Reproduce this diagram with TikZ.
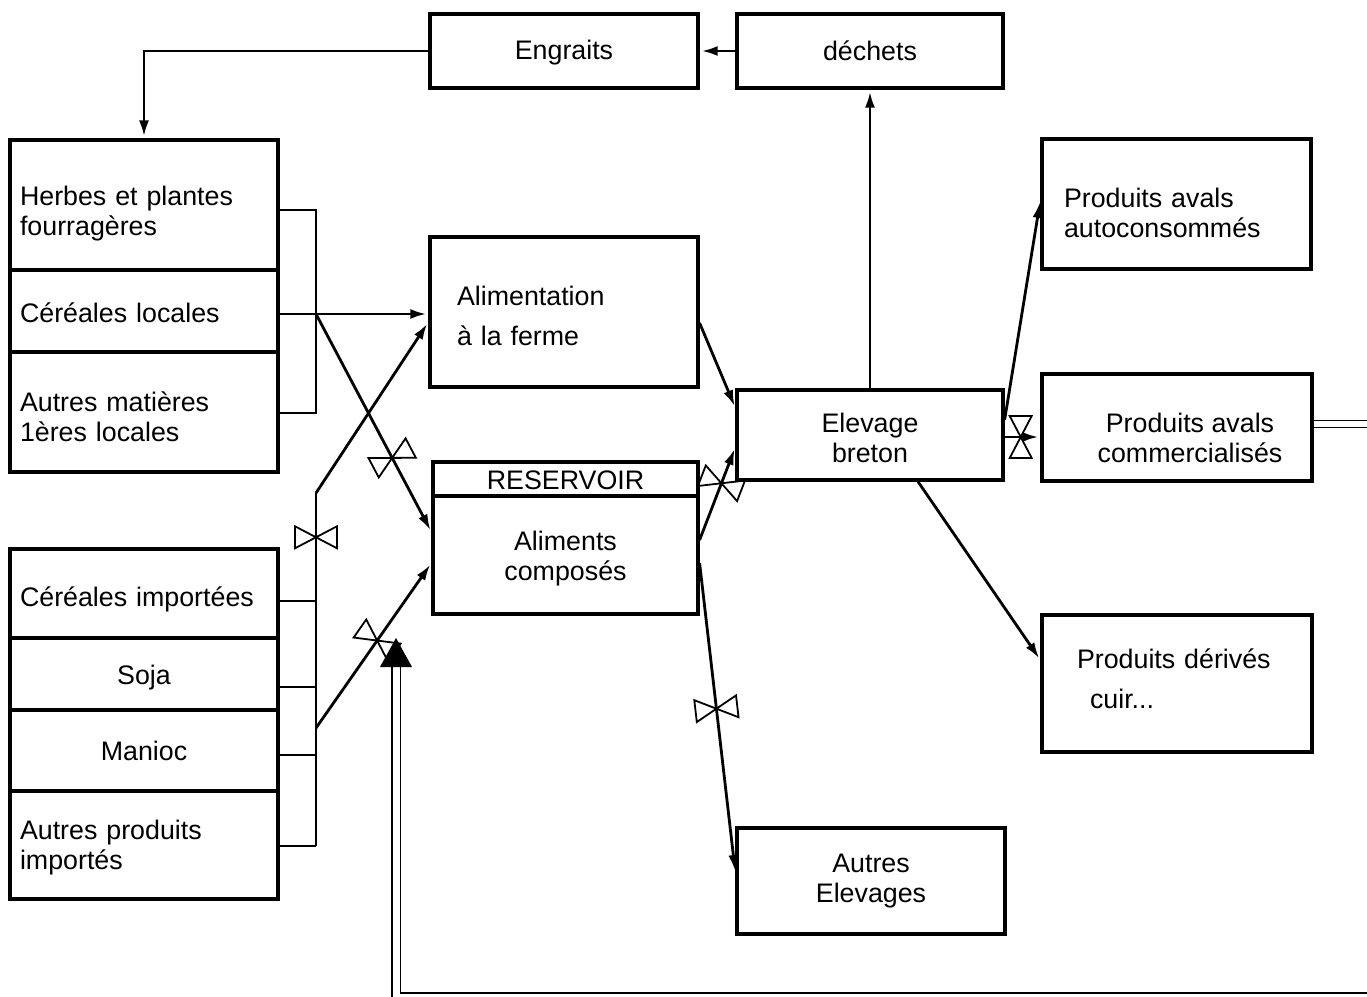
\documentclass[tikz,border=0pt]{standalone}
\usepackage{fontspec}
\setmainfont{Liberation Sans}
\usetikzlibrary{arrows.meta}
\newcommand{\fsz}{\fontsize{13.4pt}{15pt}\selectfont}
% pushes a node text down (taller first line)
\newcommand{\dn}[1]{\rule{0pt}{#1}}
\tikzset{
    box/.style={draw, line width=1.6pt, inner sep=0pt, font=\fsz, align=center},
    lbox/.style={box, align=left},
    pipe/.style={line width=1.4pt},
    flow/.style={pipe, ->, shorten >=1pt},
    valve/.pic={
        \draw[line width=0.9pt, -] (0,0) -- (-11,21) -- (11,21) -- cycle
                                   (0,0) -- (-11,-21) -- (11,-21) -- cycle;
    },
    >={Latex[length=8pt,width=5pt]},
}

\begin{document}
\begin{tikzpicture}[x=0.5pt,y=-0.5pt]
\clip (0,0) rectangle (1367,997);
% top
\node[box, minimum width=134pt, minimum height=37pt] (engrais) at (564,51) {\dn{11pt}Engraits};
\node[box, minimum width=133pt, minimum height=37pt] (dechets) at (870,51) {déchets};
% local resources
\node[lbox, text width=124pt, inner xsep=5pt, minimum height=65pt] (herbes) at (144,205) {\dn{18pt}Herbes et plantes\\fourragères};
\node[lbox, text width=124pt, inner xsep=5pt, minimum height=41pt] (cerloc) at (144,311) {\dn{12pt}Céréales locales};
\node[lbox, text width=124pt, inner xsep=5pt, minimum height=60pt] (autmat) at (144,412) {\dn{15pt}Autres matières\\1ères locales};
% imports
\node[lbox, text width=124pt, inner xsep=5pt, minimum height=44.5pt] (cerimp) at (144,593.5) {\dn{16pt}Céréales importées};
\node[box, minimum width=134pt, minimum height=36pt] (soja) at (144,674) {\dn{13pt}Soja};
\node[box, minimum width=134pt, minimum height=40.5pt] (manioc) at (144,750.5) {Manioc};
\node[lbox, text width=124pt, inner xsep=5pt, minimum height=54pt] (autimp) at (144,845) {\dn{12pt}Autres produits\\importés};
% feed
\node[lbox, text width=107pt, inner xsep=13.5pt, minimum height=75pt] (alim) at (564,312) {\dn{14pt}Alimentation\\[5pt]à la ferme};
\node[box, minimum width=132.5pt, minimum height=17pt] (reserv) at (565.5,479) {\dn{11pt}RESERVOIR};
\node[box, minimum width=132.5pt, minimum height=59pt] (aliments) at (565.5,555) {\dn{13pt}Aliments\\composés};
% livestock
\node[box, minimum width=133pt, minimum height=45pt] (elevage) at (870,435) {\dn{13pt}Elevage\\breton};
\node[box, minimum width=134pt, minimum height=53pt] (autelev) at (871,881) {Autres\\Elevages};
% outputs
\node[lbox, text width=112.5pt, inner xsep=11pt, minimum height=65pt] (pauto) at (1176.5,204) {\dn{19pt}Produits avals\\autoconsommés};
\node[box, minimum width=135pt, minimum height=53.5pt] (pcomm) at (1177,427.5) {\dn{20pt}\hspace*{13pt}Produits avals\\\hspace*{13pt}commercialisés};
\node[lbox, text width=100pt, inner xsep=17.5pt, minimum height=68.5pt] (pderiv) at (1177,683.5) {Produits dérivés\\[5pt]\hspace*{6.5pt}cuir...\rule[-5pt]{0pt}{5pt}};

\coordinate (b1t) at (316,210);
\coordinate (b1m) at (316,314);
\coordinate (b1b) at (316,413);
\coordinate (b2a) at (316,493);
\coordinate (s1) at (316,601);
\coordinate (s2) at (316,687);
\coordinate (m1) at (316,728);
\coordinate (s3) at (316,755);
\coordinate (s4) at (316,846);
\coordinate (bordE) at (1367,424);
\coordinate (bordS) at (1380,997);
\coordinate (fbfoot) at (396,666);
\coordinate (fbtip) at (396,638);

\draw[flow] (dechets) -- (engrais);
\draw[flow] (engrais.west) -| (herbes.north);
% local side
\draw[pipe] (b1t -| herbes.east) -- (b1t) -- (b1b) -- (b1b -| autmat.east);
\draw[flow] (b1m -| cerloc.east) -- (b1m) -- (b1m -| alim.west);
\draw[flow] (b1m) -- (aliments.west |- 0,532) pic[pos=0.66, sloped] {valve};
% import side
\foreach \s/\b in {s1/cerimp, s2/soja, s3/manioc, s4/autimp}
    \draw[pipe] (\s -| \b.east) -- (\s);
\draw[pipe] (s4) -- (s1) -- (b2a) pic[pos=0.59, sloped] {valve};
\draw[flow] (b2a) -- (alim.west |- 0,322);
\draw[flow] (m1) -- (aliments.west |- 0,563) pic[pos=0.53, sloped] {valve};
% to the farms
\draw[flow] (alim.east |- 0,323) -- (elevage.west |- 0,408);
\draw[flow] (aliments.east |- 0,540) -- (elevage.west |- 0,447) pic[pos=0.61, sloped] {valve};
\draw[flow] (aliments.east |- 0,563) -- (autelev.west |- 0,873) pic[pos=0.47, sloped] {valve};
% outputs
\draw[flow] (elevage) -- (dechets);
\draw[flow] (elevage.east |- 0,420) -- (pauto.west |- 0,200);
\draw[flow] (elevage.east |- 0,437) -- (pcomm.west |- 0,437) pic[pos=0.45, sloped] {valve};
\draw[flow] (elevage.south -| 918,0) -- (pderiv.west |- 0,660);
% double lines
\draw[line width=0.8pt, double distance=2.7pt] (pcomm.east |- 0,424) -- (bordE);
\draw[line width=0.8pt, double distance=3.5pt] (bordS) -- (bordS -| fbfoot) -- (fbfoot);
\fill (fbtip) -- (380,667) -- (412,667) -- cycle;
\end{tikzpicture}
\end{document}
